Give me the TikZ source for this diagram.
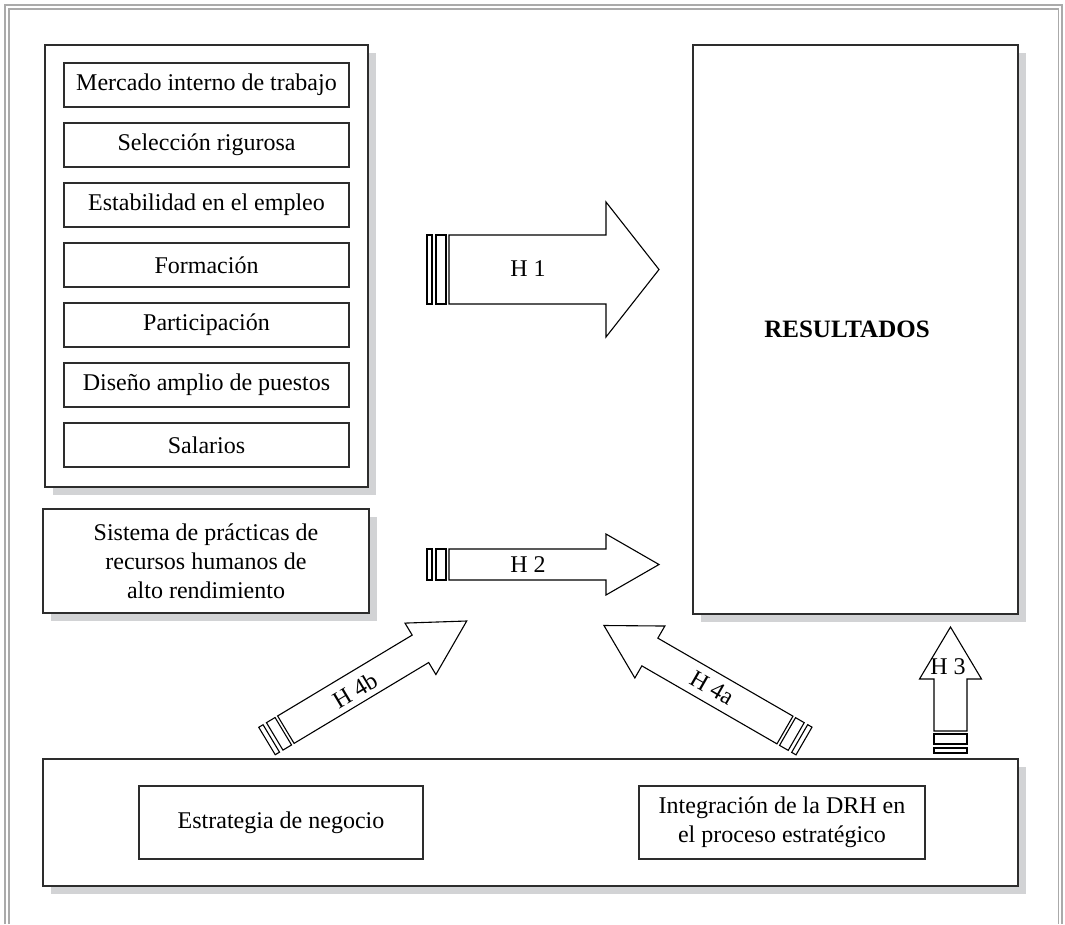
\documentclass[tikz,border=0pt]{standalone}
\usepackage{fontspec}
\setmainfont{Liberation Serif}
\usetikzlibrary{shadows}
\definecolor{shadowc}{RGB}{210,211,213}
\definecolor{framec}{RGB}{170,170,170}
\definecolor{linec}{RGB}{45,45,45}
\newcommand\hyparrowshape[4]{%
  \draw[arrowline] (0,-#2) rectangle (5,#2);
  \draw[arrowline] (9,-#2) rectangle (19,#2);
  \draw[arrowline] (22,-#2) -- ({22+#1},-#2) -- ({22+#1},-#4) -- ({22+#1+#3},0)
     -- ({22+#1},#4) -- ({22+#1},#2) -- (22,#2) -- cycle;
}
\begin{document}
\begin{tikzpicture}[x=1pt,y=-1pt,
  every node/.style={font=\fontsize{24}{29}\selectfont},
  box/.style={draw=linec, line width=1.3pt, fill=white, inner sep=0pt, outer sep=0pt, align=center},
  shbox/.style={box, general shadow={fill=shadowc, shadow xshift=8pt, shadow yshift=-8pt}},
  arrowline/.style={draw=black, line width=1.1pt, fill=white, line join=miter},
  lab/.style={inner sep=0pt}
]
\useasboundingbox (0,0) rectangle (1065,924);
% outer frame
\draw[framec, line width=1.3pt] (5,924) -- (5,5) -- (1062,5) -- (1062,924);
\draw[framec, line width=1.3pt] (9,924) -- (9,9) -- (1058.5,9) -- (1058.5,924);

% practices box
\node[shbox, minimum width=323pt, minimum height=442pt] (prac) at (206.5,266) {};
\foreach \t [count=\i from 0] in {Mercado interno de trabajo, Selección rigurosa, Estabilidad en el empleo, Formación, Participación, Diseño amplio de puestos, Salarios}{
  \node[box, minimum width=285pt, minimum height=44pt] (p\i) at (206.5,{85+60*\i}) {\t};
}
% sistema
\node[shbox, minimum width=326pt, minimum height=104pt] (sis) at (206,561) {Sistema de prácticas de\\recursos humanos de\\alto rendimiento};
% resultados
\node[shbox, minimum width=325pt, minimum height=569pt] (res) at (855.5,329.5) {};
\node[lab, font=\fontsize{25}{29}\selectfont\bfseries] (restext) at (847,329.5) {RESULTADOS};
% bottom
\node[shbox, minimum width=975pt, minimum height=127pt] (bot) at (530.5,822.5) {};
\node[box, minimum width=284pt, minimum height=73pt] (estr) at (281,822.5) {Estrategia de negocio};
\node[box, minimum width=286pt, minimum height=73pt] (integ) at (782,822.5) {Integración de la DRH en\\el proceso estratégico};

% arrows
\begin{scope}[shift={(427,269.5)}]
  \hyparrowshape{157}{34.5}{53}{67.5}
\end{scope}
\node[lab] (h1) at (528,269) {H 1};
\begin{scope}[shift={(427,564.5)}]
  \hyparrowshape{157}{15.5}{53}{30.5}
\end{scope}
\node[lab] (h2) at (528,565) {H 2};
\begin{scope}[shift={(950.5,753)}, rotate=90]
  \hyparrowshape{52}{16.5}{52}{31}
\end{scope}
\node[lab] (h3) at (948,667) {H 3};
\begin{scope}[shift={(267,741)}, rotate=31]
  \hyparrowshape{157}{16}{54}{30}
\end{scope}
\node[lab, rotate=31] (h4b) at (355,690) {H 4b};
\begin{scope}[shift={(804,741)}, rotate=150]
  \hyparrowshape{156}{16}{53}{30}
\end{scope}
\node[lab, rotate=-30] (h4a) at (712,688) {H 4a};
\end{tikzpicture}
\end{document}
